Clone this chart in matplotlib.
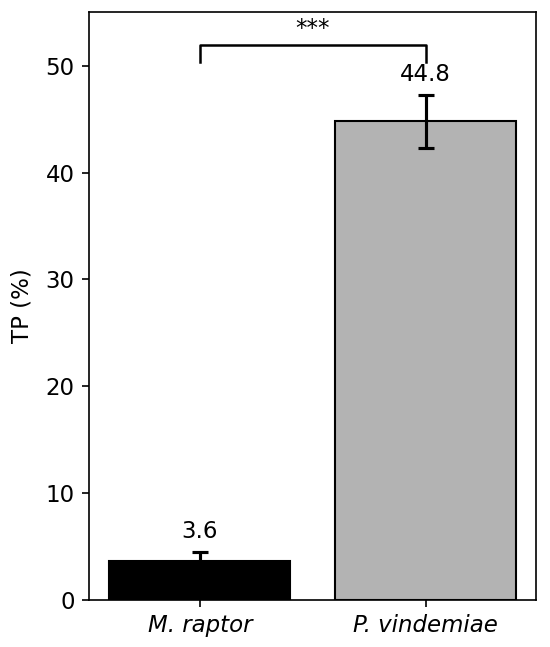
import matplotlib
matplotlib.use("agg")
import matplotlib.pyplot as plt

SPECIES = ["M. raptor", "P. vindemiae"]
TP_MEAN = [3.6, 44.8]
TP_ERR = [0.9, 2.5]
COLORS = ["#000000", "#b3b3b3"]
SIGNIF = "***"

fig, ax = plt.subplots(figsize=(550 / 150, 647 / 150), dpi=150)
x = list(range(len(SPECIES)))
ax.bar(x, TP_MEAN, width=0.8, color=COLORS, edgecolor="black", linewidth=1)
ax.errorbar(x, TP_MEAN, yerr=TP_ERR, fmt="none", ecolor="black",
            elinewidth=1.5, capsize=4, capthick=1.5)

# value labels above error bars
for xi, m, e in zip(x, TP_MEAN, TP_ERR):
    ax.text(xi, m + e + 0.8, f"{m:.1f}", ha="center", va="bottom", fontsize=11)

# significance bracket
y_lo, y_hi = 50.3, 51.9
ax.plot([x[0], x[0], x[1], x[1]], [y_lo, y_hi, y_hi, y_lo], color="black", lw=1.2)
ax.text((x[0] + x[1]) / 2, y_hi + 0.5, SIGNIF, ha="center", va="bottom", fontsize=11)

ax.set_ylim(0, 55)
ax.set_xticks(x)
ax.set_xticklabels(SPECIES, fontstyle="italic", fontsize=11)
ax.tick_params(axis="y", labelsize=11)
ax.set_ylabel("TP (%)", fontsize=11, labelpad=5.5)

fig.subplots_adjust(left=0.162, right=0.975, top=0.981, bottom=0.073)
fig.savefig("out.png", dpi=150)
